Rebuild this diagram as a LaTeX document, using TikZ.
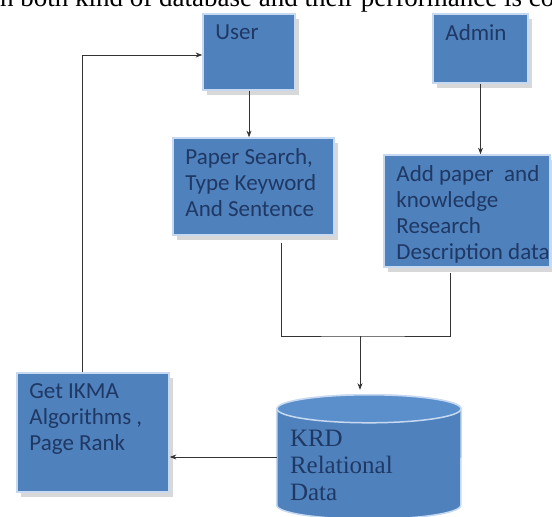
\documentclass[tikz,border=0pt]{standalone}
\usepackage{fontspec}
\setmainfont{Carlito}
\newfontfamily\serifdb{Liberation Serif}
\usepackage{tikz}
\usetikzlibrary{positioning, arrows.meta, shadows, calc}

\definecolor{boxblue}{HTML}{4F81BD}
\definecolor{boxedge}{HTML}{C6D9F1}
\definecolor{boxtext}{HTML}{1F3864}
\definecolor{dbtop}{HTML}{5B8FCC}

\tikzset{
  box/.style={rectangle, fill=boxblue, draw=boxedge, line width=1.5pt,
    drop shadow={shadow xshift=4pt, shadow yshift=-5pt, fill=black!30, opacity=0.5}},
  lbl/.style={anchor=north west, align=left, inner sep=0pt, text=boxtext,
    font=\fontsize{23}{26}\selectfont},
  link/.style={line width=0.8pt, draw=black!80}
}

\begin{document}
\begin{tikzpicture}[x=1pt, y=1pt, >=Stealth]
    \useasboundingbox (0,0) rectangle (552,517);
    \clip (0,0) rectangle (552,517);

    % Page text above the figure
    \node[anchor=base west, inner sep=0pt, font=\serifdb\fontsize{27}{30}\selectfont] (pagetext) at (-12,510) {ch both kind of database and their performance is co};

    % Boxes
    \foreach \name/\x/\y/\w/\h/\txt in {user/249/465/92/76/{User}, admin/480.5/468.5/95/69/{Admin}, search/253.5/330.5/161/97/{Paper Search,\\Type Keyword\\And Sentence}, addpaper/467/306/166/112/{Add paper\ \ and\\knowledge\\Research\\Description data}, getalg/93/84.5/152/119/{Get IKMA\\Algorithms ,\\Page Rank}} {
        \node[box, minimum width=\w*1pt, minimum height=\h*1pt] (\name) at (\x,\y) {};
        \node[lbl] (\name-txt) at ([shift={(13,-11)}]\name.north west) {\txt};
    }

    % Database
    \node[minimum width=184pt, minimum height=96pt, inner sep=0pt] (krd) at (369,60) {};
    \filldraw[fill=boxblue, draw=boxedge, line width=1.5pt] (krd.north west) -- (krd.south west) arc[start angle=180, end angle=360, x radius=92, y radius=14] -- (krd.north east) arc[start angle=0, end angle=180, x radius=92, y radius=14] -- cycle;
    \filldraw[fill=dbtop, draw=boxedge, line width=1.5pt] (krd.north) ellipse[x radius=92, y radius=14];
    \node[lbl, font=\serifdb\fontsize{25}{27}\selectfont] (krd-txt) at ([shift={(13,-21)}]krd.north west) {KRD\\Relational\\Data};
    \coordinate (krdtop) at ([yshift=19pt]krd.north);

    % Arrows down from user and admin
    \draw[link, ->] (user.south) -- (user.south |- search.north);
    \draw[link, ->] (admin.south) -- (admin.south |- addpaper.north);

    % Both into the database
    \coordinate (join) at (360,181);
    \draw[link] ([shift={(27.5,-7)}]search.south) |- (join) -| ([shift={(-17,-5)}]addpaper.south);
    \draw[link, ->] (join) -- (join |- krdtop);

    % Database to algorithms and back to user
    \draw[link, ->] (krd.west) -- (krd.west -| getalg.east);
    \draw[link, ->] ([xshift=-11pt]getalg.north) |- ([yshift=-3pt]user.west);
\end{tikzpicture}
\end{document}
